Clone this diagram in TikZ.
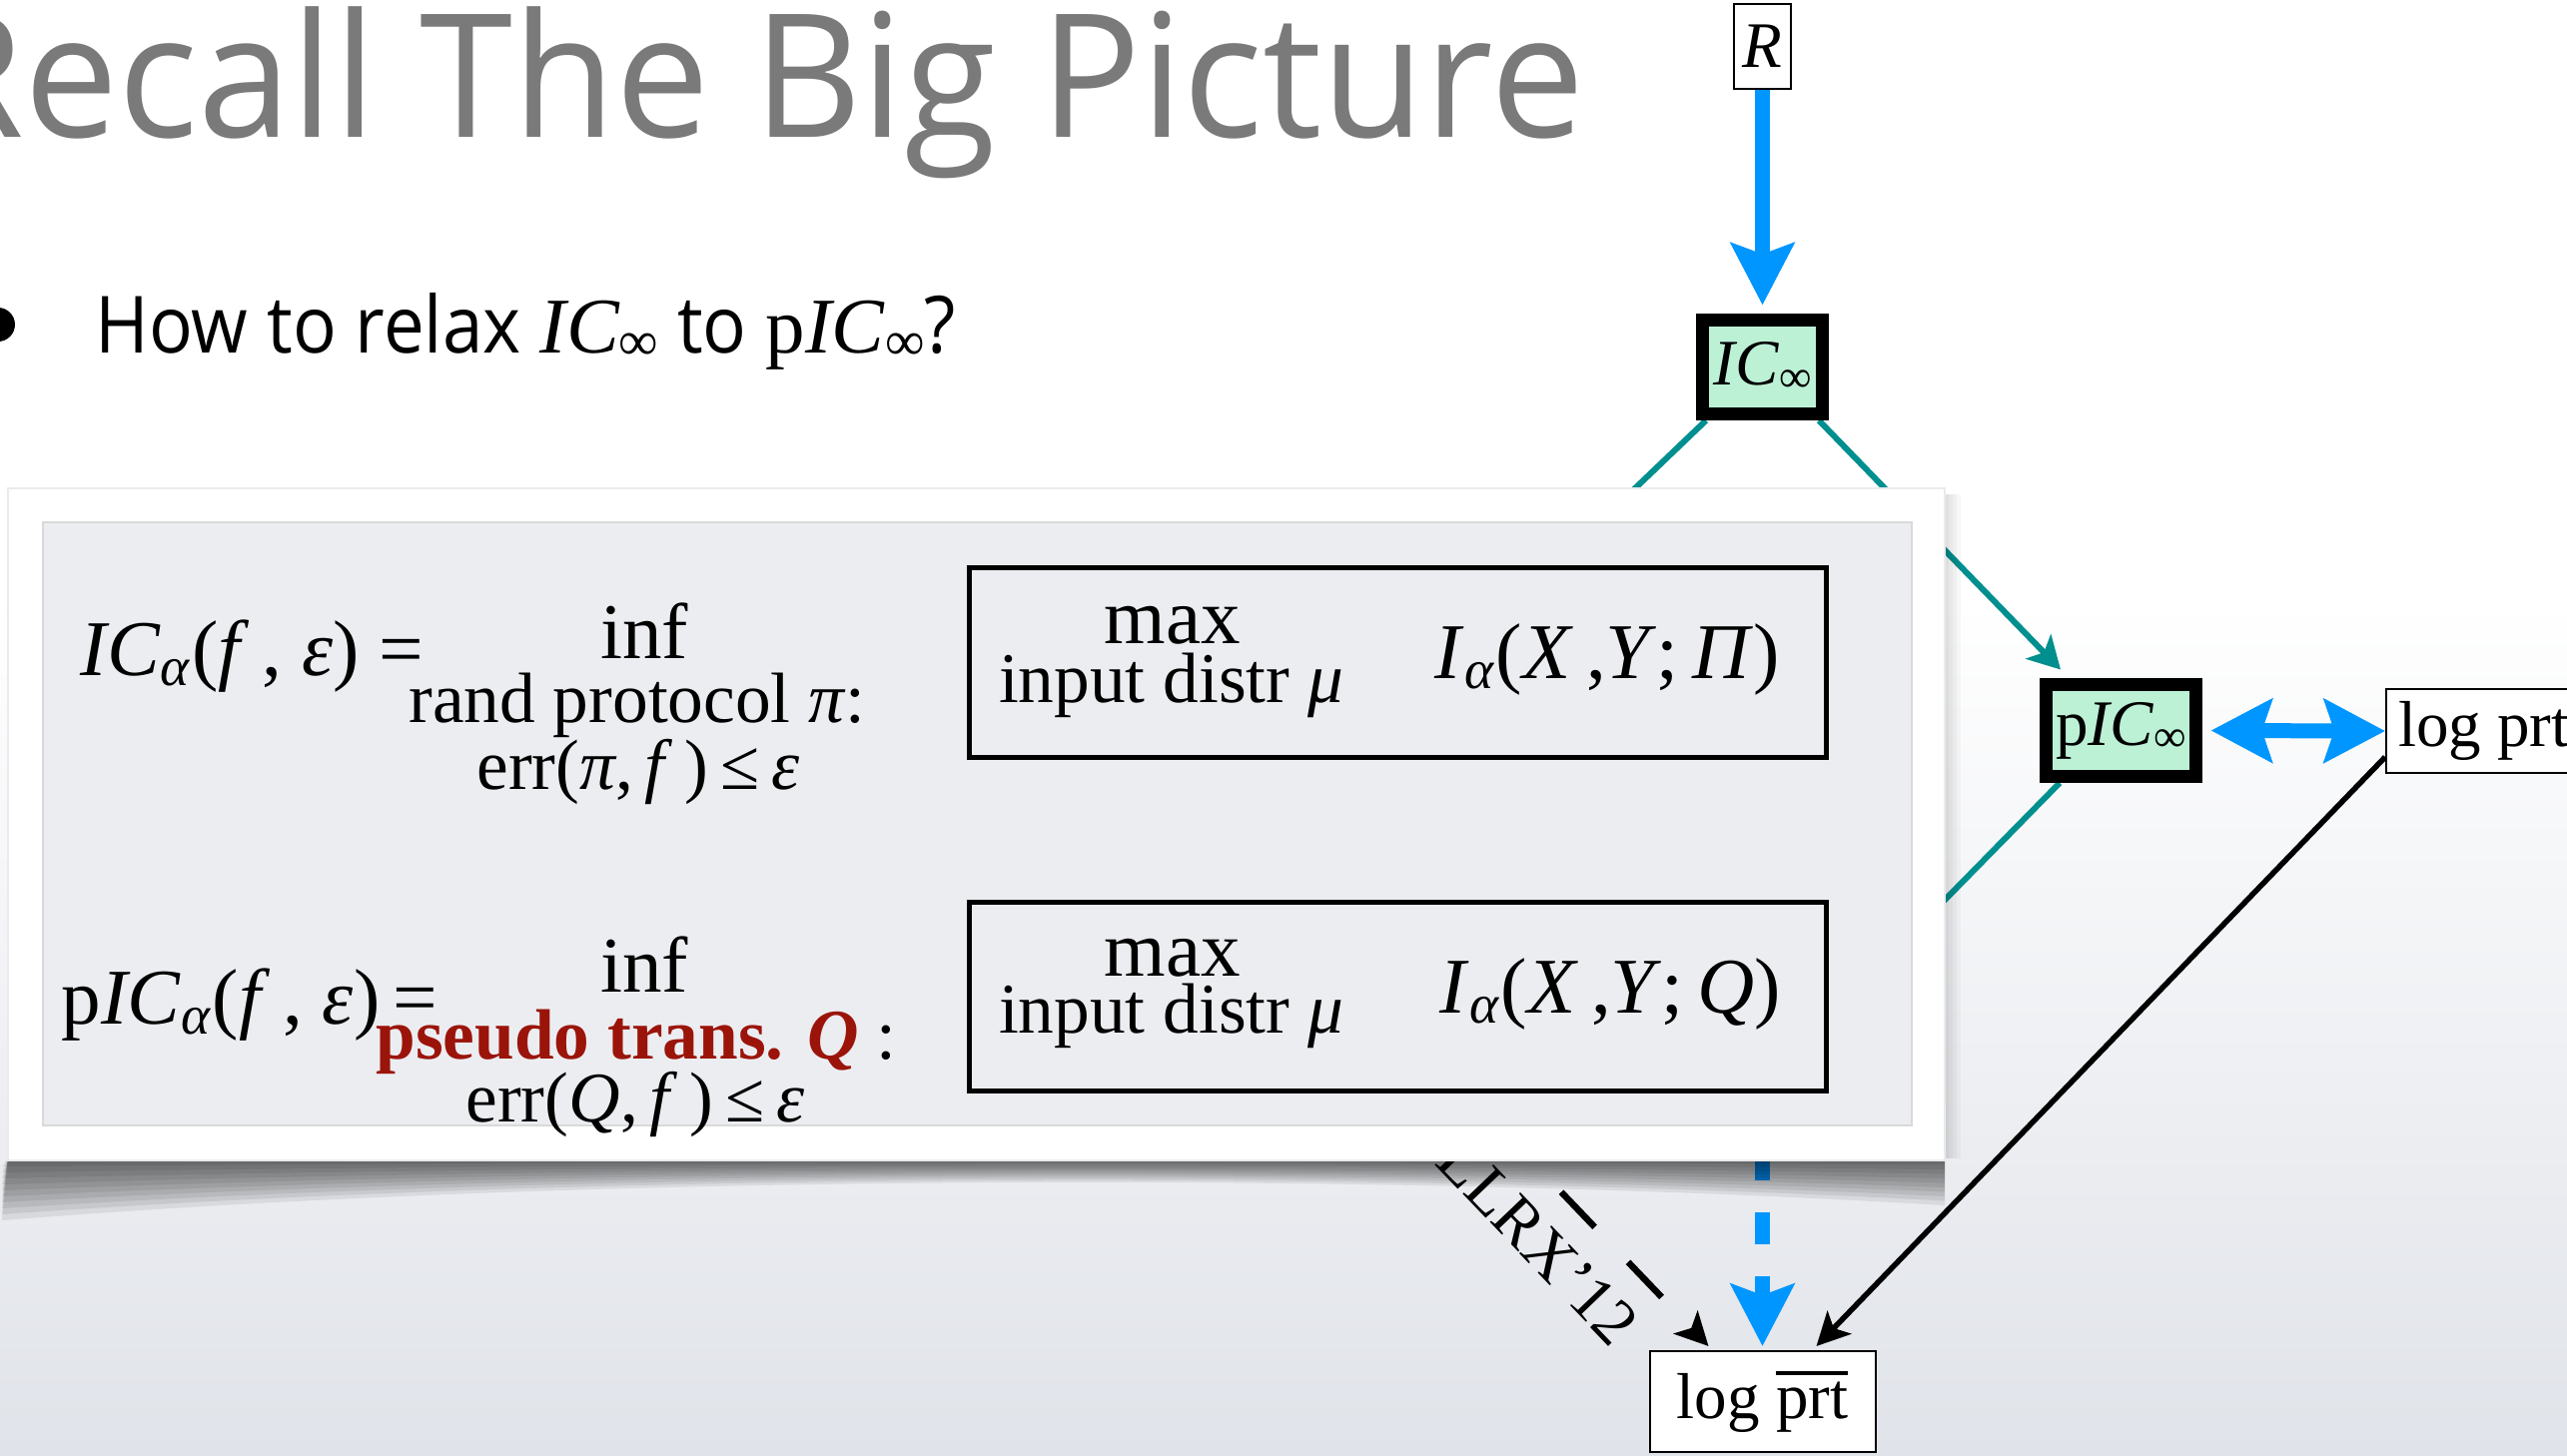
\documentclass[tikz,border=0pt]{standalone}
\usepackage{fontspec}
\setmainfont{Liberation Serif}
\newfontfamily\gillfont[FakeStretch=0.975]{Open Sans}
\newfontfamily\gillnarrow[FakeStretch=0.92]{Open Sans}
\usepackage{graphicx}
\usetikzlibrary{arrows.meta}

\definecolor{tealline}{RGB}{0,143,143}
\definecolor{arrowblue}{RGB}{0,150,255}
\definecolor{mint}{RGB}{188,241,214}
\definecolor{panelgray}{RGB}{236,237,241}
\definecolor{darkred}{RGB}{155,20,10}
\definecolor{titlegray}{RGB}{122,122,122}
\definecolor{bgbottom}{RGB}{224,227,233}

\newcommand{\infsub}{\raisebox{-0.1em}{\scalebox{0.7}{\rmfamily ∞}}}
\newcommand{\barprt}{\mbox{\vbox{\hrule height 0.07em\kern 0.1em\hbox{prt}}}}

\pgfdeclarelayer{bg}
\pgfdeclarelayer{edges}
\pgfsetlayers{bg,edges,main}

\begin{document}
\begin{tikzpicture}[
    bigtext/.style={font=\fontsize{22.5pt}{26pt}\selectfont, inner sep=0pt},
    subtext/.style={font=\fontsize{20.3pt}{24pt}\selectfont, inner sep=0pt},
    plainbox/.style={draw, line width=0.02cm, fill=white, inner sep=0pt, font=\fontsize{18.5pt}{22pt}\selectfont},
    icbox/.style={draw, line width=0.13cm, fill=mint, inner sep=0pt, font=\fontsize{18.5pt}{22pt}\selectfont},
    bluearrow/.style={arrowblue, line width=0.15cm, -{Stealth[length=6.2mm, width=6.3mm, inset=1.1mm]}},
    tealarrow/.style={tealline, line width=0.06cm},
    blackarrow/.style={line width=0.055cm, -{Stealth[length=3.3mm, width=3.3mm, inset=0.8mm]}}
]
    \useasboundingbox (0,0) rectangle (25.70,-14.57);
    \begin{pgfonlayer}{bg}
        \fill[white] (0,0) rectangle (25.70,-6.0);
        \shade[top color=white, bottom color=bgbottom] (0,-6.0) rectangle (25.70,-14.57);
    \end{pgfonlayer}

    % title and question
    \node[anchor=base east, inner sep=0pt, text=titlegray, font=\gillfont\fontsize{49pt}{52pt}\selectfont] (title) at (15.87,-1.37) {Recall The Big Picture};
    \fill (-0.02,-3.25) circle (0.17);
    \node[anchor=base west, inner sep=0pt, font=\gillnarrow\fontsize{22.5pt}{27pt}\selectfont] (question) at (0.95,-3.53)
        {How to relax {\rmfamily\itshape IC}\infsub{} to {\rmfamily p\textit{IC}}\infsub?};

    % graph nodes
    \node[plainbox, minimum width=0.57cm, minimum height=0.85cm] (R) at (17.645,-0.465) {\textit{R}};
    \node[icbox, minimum width=1.20cm, minimum height=0.94cm] (IC) at (17.645,-3.675) {\textit{IC}\infsub};
    \node[icbox, minimum width=1.50cm, minimum height=0.92cm] (pIC) at (21.235,-7.315) {p\textit{IC}\infsub};
    \node[plainbox, anchor=west, minimum height=0.84cm, inner xsep=0.12cm] (prt) at (23.88,-7.32) {log prt};
    \node[plainbox, minimum width=2.26cm, minimum height=1.01cm] (prtbar) at (17.645,-14.035) {log \barprt};

    \coordinate (hidA) at (15.00,-6.20);
    \coordinate (hidB) at (18.50,-10.00);
    \coordinate (hidC) at (17.645,-6.38);
    \coordinate (hidD) at (12.28,-8.43);

    \begin{pgfonlayer}{edges}
        \draw[bluearrow] (R) -- ([yshift=0.085cm]IC.north);
        \draw[tealarrow] ([xshift=1mm]IC.south west) -- (hidA);
        \draw[tealarrow, -{Stealth[length=3.2mm, width=3.5mm, inset=0.8mm]}] ([xshift=-1mm]IC.south east) -- ([xshift=2.1mm, yshift=0.85mm]pIC.north west);
        \draw[tealarrow] ([xshift=2mm]pIC.south west) -- (hidB);
        \draw[arrowblue, line width=0.15cm, {Stealth[length=6.1mm, width=6.3mm, inset=1mm]}-{Stealth[length=6.1mm, width=6.3mm, inset=1mm]}] ([xshift=0.085cm]pIC.east) -- (prt.west);
        \draw[bluearrow, dash pattern=on 0.32cm off 0.32cm] (hidC) -- ([yshift=0.04cm]prtbar.north);
        \draw[blackarrow] ([yshift=1.7mm]prt.south west) -- ([xshift=-0.6cm, yshift=0.04cm]prtbar.north east);
        \draw[blackarrow, line width=0.065cm, dash pattern=on 0.485cm off 0.485cm] (hidD) --
            node[sloped, below, pos=0.723, inner sep=0.26cm, font=\fontsize{18.5pt}{22pt}\selectfont] (llrx) {LLRX’12}
            ([xshift=0.6cm, yshift=0.04cm]prtbar.north west);
    \end{pgfonlayer}

    % panel with its shadow
    \foreach \k in {1,...,10}
        \fill[black, opacity=0.075] (0.08,-11.6) -- (19.47,-11.6) -- (19.47,{-11.62-0.045*\k})
            .. controls (14,{-11.62-0.012*\k}) and (6,{-11.62-0.012*\k}) .. (0.02,{-11.62-0.06*\k}) -- cycle;
    \foreach \k in {1,...,4}
        \fill[black, opacity=0.03] (19.47,-4.95) rectangle ({19.47+0.04*\k},-11.6);
    \fill[white, draw=black!8] (0.08,-4.89) rectangle (19.47,-11.62);
    \fill[panelgray, draw=black!15, line width=0.02cm] (0.43,-5.23) rectangle (19.14,-11.27);

    \node[draw, line width=0.05cm, minimum width=8.58cm, minimum height=1.90cm] (box1) at (13.995,-6.635) {};
    \node[draw, line width=0.05cm, minimum width=8.58cm, minimum height=1.89cm] (box2) at (13.995,-9.98) {};

    \node[bigtext, anchor=base west] (ic) at (0.80,-6.76) {\textit{IC}\textsubscript{\textit{α}}(\textit{f}\,, \textit{ε}) =};
    \node[bigtext, anchor=base] (inf1) at (6.45,-6.59) {inf};
    \node[subtext, anchor=base] (rand) at (6.38,-7.23) {rand protocol \textit{π}:};
    \node[subtext, anchor=base] (err1) at (6.39,-7.90) {err(\textit{π},\,\textit{f}\,)\,≤\,\textit{ε}};

    \node[bigtext, anchor=base west] (pic) at (0.61,-10.25) {p\textit{IC}\textsubscript{\textit{α}}(\textit{f}\,, \textit{ε})\,=};
    \node[bigtext, anchor=base] (inf2) at (6.45,-9.93) {inf};
    \node[subtext, anchor=base] (pseudo) at (6.37,-10.60) {\textcolor{darkred}{\textbf{pseudo trans. \textit{Q}}} :};
    \node[subtext, anchor=base] (err2) at (6.36,-11.23) {err(\textit{Q},\,\textit{f}\,)\,≤\,\textit{ε}};

    \node[bigtext, anchor=base] (max1) at (11.74,-6.44) {max};
    \node[subtext, anchor=base] (mu1) at (11.725,-7.03) {input distr \textit{μ}};
    \node[bigtext, anchor=base] (info1) at (16.09,-6.79) {\textit{I}\textsubscript{\textit{α}}(\textit{X}\,,\textit{Y};\,\textit{Π})};
    \node[bigtext, anchor=base] (max2) at (11.74,-9.77) {max};
    \node[subtext, anchor=base] (mu2) at (11.725,-10.34) {input distr \textit{μ}};
    \node[bigtext, anchor=base] (info2) at (16.12,-10.14) {\textit{I}\textsubscript{\textit{α}}(\textit{X}\,,\textit{Y};\,\textit{Q})};
\end{tikzpicture}
\end{document}
